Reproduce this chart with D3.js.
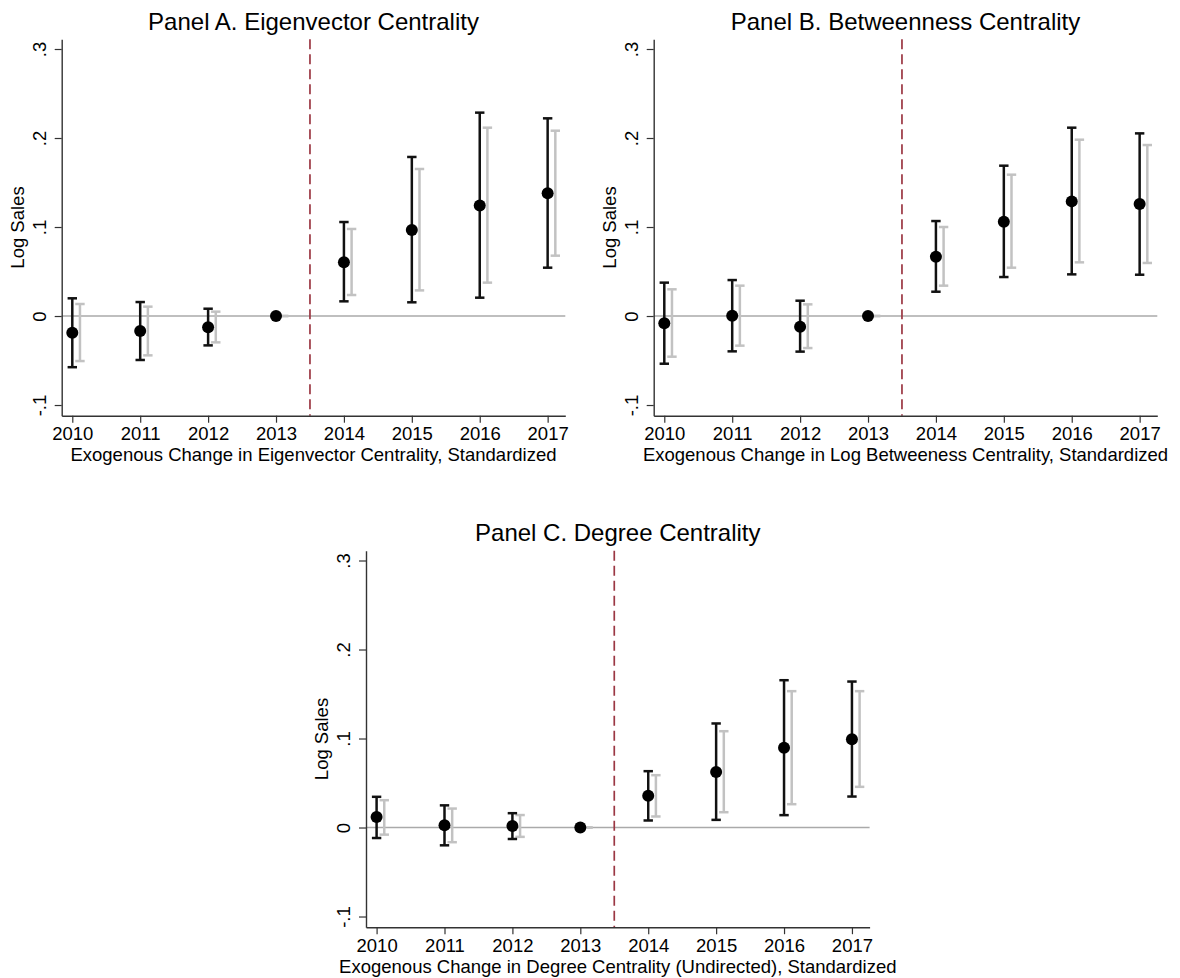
<!DOCTYPE html>
<html>
<head>
<meta charset="utf-8">
<script src="https://cdn.jsdelivr.net/npm/d3@7"></script>
<style>
  html, body { margin: 0; padding: 0; background: #fff; }
  svg { display: block; }
  text { font-family: "Liberation Sans", Arial, sans-serif; fill: #000; }
</style>
</head>
<body>
<svg id="chart" width="1180" height="978"></svg>
<script>
// ---------- data ----------
const years = [2010, 2011, 2012, 2013, 2014, 2015, 2016, 2017];
const yTickValues = [-0.1, 0, 0.1, 0.2, 0.3];
const yTickLabels = ["-.1", "0", ".1", ".2", ".3"];

const panelTitles = [
  "Panel A. Eigenvector Centrality",
  "Panel B. Betweenness Centrality",
  "Panel C. Degree Centrality"
];
const xTitles = [
  "Exogenous Change in Eigenvector Centrality, Standardized",
  "Exogenous Change in Log Betweeness Centrality, Standardized",
  "Exogenous Change in Degree Centrality (Undirected), Standardized"
];
const yTitle = "Log Sales";

// Panel A
const pointA   = [-0.0187, -0.0169, -0.0127, 0, 0.0603, 0.0966, 0.1243, 0.1378];
const blackHiA = [ 0.0199,  0.0157,  0.0082, 0, 0.1056, 0.1787, 0.2285, 0.2221];
const blackLoA = [-0.0575, -0.0494, -0.0330, 0, 0.0165, 0.0154, 0.0206, 0.0543];
const greyHiA  = [ 0.0135,  0.0105,  0.0049, 0, 0.0978, 0.1652, 0.2116, 0.2082];
const greyLoA  = [-0.0506, -0.0442, -0.0296, 0, 0.0236, 0.0288, 0.0375, 0.0678];

// Panel B
const pointB   = [-0.0082,  0.0004, -0.0120, 0, 0.0667, 0.1060, 0.1288, 0.1258];
const blackHiB = [ 0.0375,  0.0404,  0.0172, 0, 0.1067, 0.1689, 0.2116, 0.2052];
const blackLoB = [-0.0536, -0.0397, -0.0400, 0, 0.0273, 0.0438, 0.0468, 0.0464];
const greyHiB  = [ 0.0300,  0.0341,  0.0131, 0, 0.1000, 0.1588, 0.1981, 0.1921];
const greyLoB  = [-0.0457, -0.0333, -0.0360, 0, 0.0341, 0.0543, 0.0603, 0.0596];

// Panel C
const pointC   = [ 0.0118,  0.0026,  0.0017, 0, 0.0356, 0.0625, 0.0895, 0.0993];
const blackHiC = [ 0.0345,  0.0249,  0.0161, 0, 0.0633, 0.1169, 0.1655, 0.1640];
const blackLoC = [-0.0118, -0.0200, -0.0129, 0, 0.0079, 0.0086, 0.0139, 0.0348];
const greyHiC  = [ 0.0307,  0.0213,  0.0140, 0, 0.0588, 0.1082, 0.1532, 0.1532];
const greyLoC  = [-0.0080, -0.0165, -0.0105, 0, 0.0124, 0.0172, 0.0262, 0.0457];

const eventYear = 2013.5;
const greyShift = 0.113; // horizontal offset (years) for the second CI

// ---------- layout / style ----------
const base = { left: 61.7, right: 565.3, top: 39.3, bottom: 415.7 };
const xDomain = [2009.844, 2017.26];
const yDomain = [-0.112, 0.3109];
const panelOffsets = [ {dx: 0, dy: 0}, {dx: 592, dy: 0}, {dx: 304.3, dy: 511.5} ];

const panels = [
  { point: pointA, bHi: blackHiA, bLo: blackLoA, gHi: greyHiA, gLo: greyLoA },
  { point: pointB, bHi: blackHiB, bLo: blackLoB, gHi: greyHiB, gLo: greyLoB },
  { point: pointC, bHi: blackHiC, bLo: blackLoC, gHi: greyHiC, gLo: greyLoC }
];

const svg = d3.select("#chart");
const axisColor = "#333333";

panels.forEach((p, i) => {
  const off = panelOffsets[i];
  const g = svg.append("g").attr("transform", `translate(${off.dx},${off.dy})`);

  const x = d3.scaleLinear().domain(xDomain).range([base.left, base.right]);
  const y = d3.scaleLinear().domain(yDomain).range([base.bottom, base.top]);
  const cx = (base.left + base.right) / 2;
  const cy = (base.top + base.bottom) / 2;

  // zero line
  g.append("line")
    .attr("x1", base.left).attr("x2", base.right)
    .attr("y1", y(0)).attr("y2", y(0))
    .attr("stroke", "#aaaaaa").attr("stroke-width", 1.7);

  // event line
  g.append("line")
    .attr("x1", x(eventYear)).attr("x2", x(eventYear))
    .attr("y1", base.top).attr("y2", base.bottom)
    .attr("stroke", "#9b3743").attr("stroke-width", 1.7)
    .attr("stroke-dasharray", "10,5");

  const capHalf = 4.7;
  function drawBars(lo, hi, shift, color) {
    const data = years.map((yr, k) => ({ yr: yr + shift, lo: lo[k], hi: hi[k] }));
    const bars = g.append("g").selectAll("g").data(data).enter().append("g");
    bars.append("line")
      .attr("x1", d => x(d.yr)).attr("x2", d => x(d.yr))
      .attr("y1", d => y(d.lo)).attr("y2", d => y(d.hi))
      .attr("stroke", color).attr("stroke-width", 2.5);
    ["lo", "hi"].forEach(key => {
      bars.append("line")
        .attr("x1", d => x(d.yr) - capHalf).attr("x2", d => x(d.yr) + capHalf)
        .attr("y1", d => y(d[key])).attr("y2", d => y(d[key]))
        .attr("stroke", color).attr("stroke-width", 2.5);
    });
  }
  drawBars(p.gLo, p.gHi, greyShift, "#c2c2c2");
  drawBars(p.bLo, p.bHi, 0, "#111111");

  g.append("g").selectAll("circle")
    .data(years.map((yr, k) => ({ yr, v: p.point[k] })))
    .enter().append("circle")
    .attr("cx", d => x(d.yr)).attr("cy", d => y(d.v))
    .attr("r", 6).attr("fill", "#000");

  // x axis
  const xAxis = d3.axisBottom(x).tickValues(years).tickFormat(d3.format("d"))
    .tickSize(7).tickSizeOuter(0);
  const gx = g.append("g").attr("transform", `translate(0,${base.bottom})`).call(xAxis);
  gx.select(".domain").attr("stroke", axisColor).attr("stroke-width", 1.4);
  gx.selectAll(".tick line").attr("stroke", axisColor).attr("stroke-width", 1.2);
  gx.selectAll(".tick text")
    .attr("y", 24.7).attr("dy", 0)
    .attr("font-size", "18.5px")
    .attr("font-family", '"Liberation Sans", Arial, sans-serif')
    .attr("fill", "#000");

  // y axis
  const yAxis = d3.axisLeft(y).tickValues(yTickValues)
    .tickFormat((d, k) => yTickLabels[k]).tickSize(7).tickSizeOuter(0);
  const gy = g.append("g").attr("transform", `translate(${base.left},0)`).call(yAxis);
  gy.select(".domain").attr("stroke", axisColor).attr("stroke-width", 1.4);
  gy.selectAll(".tick line").attr("stroke", axisColor).attr("stroke-width", 1.2);
  gy.selectAll(".tick text")
    .attr("x", 0).attr("y", 0).attr("dy", 0)
    .attr("text-anchor", "middle")
    .attr("transform", "translate(-16,0) rotate(-90)")
    .attr("font-size", "18.5px")
    .attr("font-family", '"Liberation Sans", Arial, sans-serif')
    .attr("fill", "#000");

  // titles
  g.append("text")
    .attr("x", cx).attr("y", 29.8)
    .attr("text-anchor", "middle").attr("font-size", "24px")
    .text(panelTitles[i]);
  g.append("text")
    .attr("x", cx).attr("y", base.bottom + 45.7)
    .attr("text-anchor", "middle").attr("font-size", "18.5px")
    .text(xTitles[i]);
  g.append("text")
    .attr("transform", `translate(${base.left - 37.7},${cy}) rotate(-90)`)
    .attr("text-anchor", "middle").attr("font-size", "18.5px")
    .text(yTitle);
});
</script>
</body>
</html>
